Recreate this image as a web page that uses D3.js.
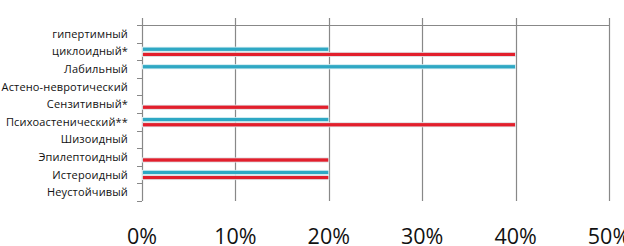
<!DOCTYPE html>
<html><head><meta charset="utf-8">
<script src="https://cdn.jsdelivr.net/npm/d3@7"></script>
<style>body{margin:0;background:#fff}svg{display:block}</style>
</head><body>
<svg id="c" width="624" height="246"></svg>
<script>
const categories = ["гипертимный","циклоидный*","Лабильный","Астено-невротический","Сензитивный*","Психоастенический**","Шизоидный","Эпилептоидный","Истероидный","Неустойчивый"];
const seriesBlue = [0, 0.2, 0.4, 0, 0, 0.2, 0, 0, 0.2, 0];
const seriesRed  = [0, 0.4, 0, 0, 0.2, 0.4, 0, 0.2, 0.2, 0];
const xTicks = [0, 0.1, 0.2, 0.3, 0.4, 0.5];
const colors = ["#2fa8c4", "#e21f2c"];

const svg = d3.select("#c");
const x = d3.scaleLinear().domain([0, 0.5]).range([142, 609]);
const y = d3.scaleBand().domain(categories).range([25, 201]);
const grid = "#888888";

// vertical gridlines
svg.append("g").selectAll("line").data(xTicks).join("line")
  .attr("x1", d => Math.round(x(d)) + 0.5).attr("x2", d => Math.round(x(d)) + 0.5)
  .attr("y1", 18).attr("y2", 201)
  .attr("stroke", grid).attr("stroke-width", 1.2);
// top line
svg.append("line").attr("x1", 137).attr("x2", x(0.5) + 0.5)
  .attr("y1", 25.5).attr("y2", 25.5).attr("stroke", grid).attr("stroke-width", 1.2);

// left axis ticks
const bounds = categories.map(c => y(c)).concat([y.range()[1]]);
svg.append("g").selectAll("line").data(bounds).join("line")
  .attr("x1", 137).attr("x2", 142).attr("y1", d => Math.round(d) + 0.5).attr("y2", d => Math.round(d) + 0.5)
  .attr("stroke", grid).attr("stroke-width", 1);

// bars
const bh = 4.2;
const series = [seriesBlue, seriesRed];
series.forEach((vals, si) => {
  svg.append("g").selectAll("rect").data(categories.map((c, i) => ({c, v: vals[i]})).filter(d => d.v > 0)).join("rect")
    .attr("x", x(0) + 0.5)
    .attr("y", d => y(d.c) + y.bandwidth() / 2 - 4.3 + si * 5.2)
    .attr("width", d => x(d.v) - x(0) - 0.5)
    .attr("height", bh)
    .attr("fill", colors[si])
    .attr("stroke", "#dff2f6").attr("stroke-width", 0.8);
});

// category labels
svg.append("g").selectAll("text").data(categories).join("text")
  .attr("x", 128).attr("y", d => y(d) + y.bandwidth() / 2 + 4)
  .attr("text-anchor", "end")
  .attr("font-family", "Open Sans, sans-serif").attr("font-size", 11)
  .attr("letter-spacing", 0.15)
  .attr("fill", "#111").text(d => d);

// x tick labels
svg.append("g").selectAll("text").data(xTicks).join("text")
  .attr("x", d => x(d)).attr("y", 244)
  .attr("text-anchor", "middle")
  .attr("font-family", "Open Sans, sans-serif").attr("font-size", 21.5)
  .attr("fill", "#111").text(d => d3.format(".0%")(d));
</script>
</body></html>
